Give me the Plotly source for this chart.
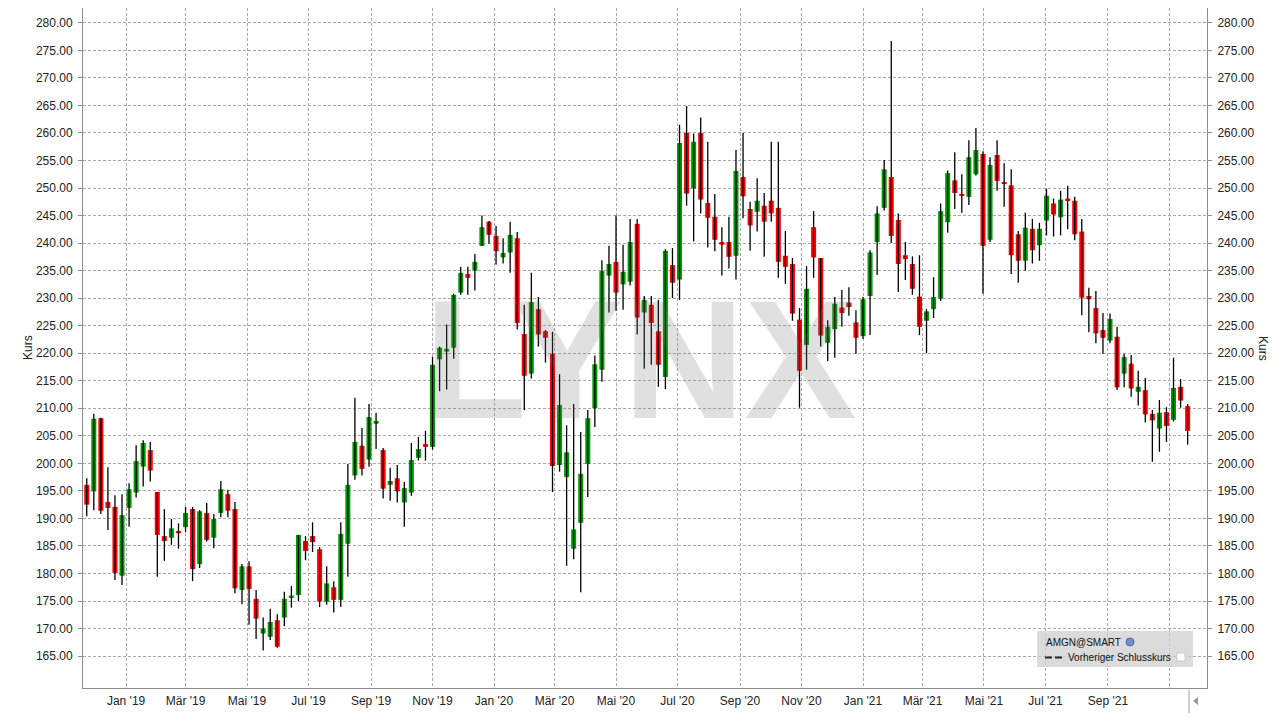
import plotly.graph_objects as go
import pandas as pd

# ---- data (weekly bars, AMGN) ----
week_start = "2018-11-23"
n_weeks = 157
dates = pd.date_range(week_start, periods=n_weeks, freq="7D")

opens = [196.1, 194.9, 208.2, 193.0, 192.1, 179.6, 191.9, 194.7, 199.4, 202.4,
         194.8, 186.8, 186.5, 187.7, 188.4, 191.7, 181.7, 191.0, 186.5, 191.0,
         194.4, 191.7, 177.0, 181.3, 175.4, 169.1, 168.5, 171.5, 172.0, 175.7,
         176.1, 185.9, 186.8, 184.4, 174.9, 177.5, 175.2, 185.4, 197.8, 203.2,
         200.7, 207.2, 202.4, 196.1, 197.3, 192.9, 194.7, 201.0, 203.5, 203.0,
         218.9, 220.3, 221.0, 231.0, 234.4, 235.0, 239.5, 243.9, 241.3, 237.4,
         238.3, 240.9, 223.5, 216.3, 228.0, 224.0, 219.9, 199.7, 197.5, 184.5,
         189.2, 199.9, 210.0, 217.0, 234.1, 236.6, 232.5, 233.0, 243.5, 227.4,
         228.8, 224.0, 215.7, 236.0, 233.4, 260.0, 249.9, 260.0, 247.3, 244.8,
         240.2, 240.2, 237.7, 252.0, 246.2, 245.7, 246.8, 247.7, 246.4, 237.7,
         236.2, 226.1, 221.5, 242.9, 237.3, 221.9, 224.4, 228.3, 229.2, 225.6,
         223.1, 230.4, 240.2, 246.4, 252.0, 244.2, 237.8, 236.2, 230.3, 225.9,
         228.0, 229.9, 243.8, 251.4, 248.9, 248.4, 252.5, 256.2, 240.6, 256.0,
         251.1, 250.5, 241.6, 236.8, 242.6, 239.6, 244.1, 247.2, 244.7, 248.1,
         247.7, 242.1, 230.4, 228.2, 224.2, 222.3, 223.0, 216.3, 218.1, 213.0,
         213.3, 209.0, 206.3, 209.3, 207.9, 213.9, 210.4]
highs = [197.3, 209.0, 208.3, 199.3, 194.2, 194.4, 196.4, 203.3, 204.2, 203.9,
         194.8, 191.7, 189.9, 189.1, 192.1, 192.1, 191.5, 192.8, 190.8, 196.8,
         195.2, 193.0, 181.7, 182.2, 177.0, 172.0, 173.6, 172.6, 176.7, 177.7,
         187.0, 186.8, 189.3, 184.8, 181.3, 178.6, 189.3, 199.9, 211.9, 206.4,
         210.8, 209.2, 202.8, 199.2, 199.7, 196.6, 203.7, 204.8, 205.9, 219.4,
         221.2, 225.2, 230.8, 235.7, 235.7, 238.0, 245.0, 244.0, 243.1, 240.9,
         243.9, 242.0, 228.8, 234.6, 230.2, 224.2, 223.9, 216.2, 206.9, 210.8,
         205.7, 209.7, 219.6, 236.9, 239.5, 245.0, 239.7, 244.4, 244.4, 230.4,
         230.4, 229.7, 238.9, 239.1, 261.5, 264.9, 259.9, 262.8, 258.4, 248.9,
         242.9, 244.8, 256.9, 260.0, 247.5, 251.8, 249.1, 258.4, 258.4, 242.2,
         237.3, 228.2, 235.8, 245.8, 237.3, 226.0, 230.2, 231.5, 232.0, 227.8,
         230.2, 238.7, 246.7, 255.1, 276.7, 245.4, 240.2, 237.6, 237.8, 228.0,
         233.8, 247.2, 253.2, 256.5, 252.5, 258.7, 260.9, 256.7, 255.6, 258.7,
         254.5, 253.4, 242.2, 245.5, 244.4, 243.7, 249.9, 248.1, 249.5, 250.4,
         248.4, 244.4, 231.9, 231.3, 227.3, 227.2, 224.8, 219.9, 219.7, 216.8,
         215.5, 209.7, 211.5, 210.2, 219.2, 215.3, 210.8]
lows = [190.4, 191.5, 190.8, 187.9, 178.8, 177.9, 188.5, 193.8, 195.8, 196.7,
        179.4, 182.3, 185.2, 184.5, 187.5, 178.6, 181.0, 185.8, 184.6, 190.2,
        190.2, 176.4, 174.4, 170.7, 168.1, 166.0, 167.9, 166.5, 170.4, 173.8,
        175.0, 182.4, 183.9, 173.9, 174.3, 172.9, 173.9, 179.4, 197.0, 197.8,
        199.4, 202.6, 193.6, 193.2, 192.9, 188.5, 194.1, 200.5, 200.5, 202.5,
        213.1, 213.4, 219.0, 230.6, 230.6, 231.4, 239.5, 239.9, 236.1, 236.3,
        234.6, 224.3, 209.7, 215.4, 221.2, 218.3, 194.8, 198.5, 181.4, 182.6,
        176.6, 193.9, 206.6, 214.8, 227.4, 227.7, 227.9, 232.3, 223.4, 217.2,
        217.9, 213.9, 213.5, 230.0, 229.7, 246.8, 240.3, 245.4, 239.2, 238.5,
        234.1, 235.4, 233.4, 244.5, 238.6, 242.1, 237.5, 243.9, 233.7, 232.6,
        225.9, 210.1, 217.0, 233.7, 221.2, 218.6, 219.2, 224.8, 226.8, 219.9,
        222.6, 223.3, 234.2, 245.9, 240.0, 231.1, 233.3, 230.6, 223.3, 220.0,
        226.4, 229.5, 241.9, 246.2, 245.5, 246.9, 252.3, 230.8, 240.2, 249.5,
        246.6, 234.4, 232.8, 235.0, 236.3, 236.8, 241.4, 241.2, 241.4, 242.5,
        240.5, 226.9, 223.8, 221.8, 219.9, 221.8, 213.3, 213.8, 212.1, 210.5,
        207.4, 200.3, 202.1, 203.9, 207.6, 210.1, 203.4]
closes = [192.5, 208.1, 191.4, 191.9, 180.1, 190.6, 195.3, 200.4, 203.7, 198.7,
          187.0, 185.9, 188.2, 187.3, 191.0, 180.8, 191.3, 186.1, 189.9, 195.3,
          191.4, 177.3, 181.3, 177.2, 171.8, 170.0, 171.2, 166.7, 175.4, 176.0,
          187.0, 184.1, 185.7, 174.9, 178.2, 175.2, 187.2, 196.1, 203.9, 199.0,
          208.4, 207.7, 195.4, 196.8, 194.9, 195.5, 200.6, 202.6, 203.0, 217.9,
          221.0, 220.8, 230.6, 234.6, 233.7, 236.6, 242.9, 241.5, 238.5, 238.2,
          241.5, 225.5, 215.9, 229.3, 223.4, 222.8, 199.5, 210.6, 202.0, 188.0,
          198.1, 208.2, 218.0, 234.9, 236.2, 231.0, 234.8, 240.2, 226.5, 229.7,
          225.5, 217.9, 238.6, 232.8, 258.2, 249.0, 258.4, 247.9, 244.6, 240.6,
          239.7, 237.5, 253.1, 248.5, 243.2, 247.7, 243.9, 245.4, 236.6, 235.7,
          227.2, 216.8, 231.7, 237.4, 223.2, 224.8, 229.0, 227.3, 228.4, 222.8,
          229.8, 238.3, 245.4, 253.4, 241.3, 236.2, 237.1, 231.7, 224.8, 227.6,
          230.2, 245.8, 252.7, 249.1, 248.6, 255.6, 256.9, 239.5, 254.2, 251.3,
          250.8, 237.8, 236.8, 242.8, 238.7, 242.6, 248.6, 245.2, 247.9, 247.8,
          241.6, 230.1, 229.8, 223.6, 222.8, 226.2, 213.8, 219.3, 213.6, 213.9,
          208.9, 207.8, 209.2, 206.8, 213.7, 211.4, 205.9]

month_ticks = ["2019-01-01", "2019-03-01", "2019-05-01", "2019-07-01", "2019-09-01",
               "2019-11-01", "2020-01-01", "2020-03-01", "2020-05-01", "2020-07-01",
               "2020-09-01", "2020-11-01", "2021-01-01", "2021-03-01", "2021-05-01",
               "2021-07-01", "2021-09-01", "2021-11-01"]
month_labels = ["Jan '19", "Mär '19", "Mai '19", "Jul '19", "Sep '19", "Nov '19",
                "Jan '20", "Mär '20", "Mai '20", "Jul '20", "Sep '20", "Nov '20",
                "Jan '21", "Mär '21", "Mai '21", "Jul '21", "Sep '21", ""]
price_ticks = [165, 170, 175, 180, 185, 190, 195, 200, 205, 210, 215, 220, 225,
               230, 235, 240, 245, 250, 255, 260, 265, 270, 275, 280]

GREEN = "#009900"
RED = "#ff0000"

# ---- geometry helpers (decoration only) ----
W, H = 1281, 721
L, R, T, B = 83, 1207, 8, 688


def px(x):
    return (x - L) / (R - L)


def py(y):
    return (B - y) / (B - T)


fig = go.Figure()

wx, wy = [], []
for d, h, l in zip(dates, highs, lows):
    wx += [d, d, None]
    wy += [l, h, None]
fig.add_trace(go.Scatter(x=wx, y=wy, mode="lines",
                         line=dict(color="black", width=1.3),
                         hoverinfo="skip", showlegend=False))

base = [min(o, c) for o, c in zip(opens, closes)]
body = [max(abs(c - o), 0.3) for o, c in zip(opens, closes)]
cols = [GREEN if c >= o else RED for o, c in zip(opens, closes)]
fig.add_trace(go.Bar(x=dates, y=body, base=base, width=5 * 86400000,
                     marker=dict(color=cols, line=dict(width=0)),
                     showlegend=False, hoverinfo="skip"))

fig.add_trace(go.Scatter(x=[dates[0]], y=[closes[0]], yaxis="y2", mode="markers",
                         marker=dict(opacity=0), hoverinfo="skip", showlegend=False))

grid = dict(showgrid=True, gridcolor="#a9a9a9", gridwidth=1, griddash="3px,2px")
tickfont = dict(family="Liberation Sans, Arial, sans-serif", size=12, color="#222222")
yrange = [159.2, 282.7]

fig.update_layout(
    width=W, height=H,
    margin=dict(l=L, r=W - R, t=T, b=H - B),
    paper_bgcolor="white", plot_bgcolor="white",
    barmode="overlay",
    showlegend=False,
    xaxis=dict(type="date", range=["2018-11-19 07:00", "2021-12-08 05:00"],
               tickvals=month_ticks, ticktext=month_labels, tickfont=tickfont,
               showline=True, linecolor="#8c8c8c", linewidth=1, ticks="",
               zeroline=False, ticklabelstandoff=2, **grid),
    yaxis=dict(range=yrange, tickvals=price_ticks, tickformat=".2f", tickfont=tickfont,
               showline=True, linecolor="#8c8c8c", linewidth=1, ticks="outside",
               ticklen=4, tickcolor="#8c8c8c", zeroline=False, side="left",
               ticklabelstandoff=3, **grid),
    yaxis2=dict(range=yrange, tickvals=price_ticks, tickformat=".2f", tickfont=tickfont,
                overlaying="y", side="right", showgrid=False, showline=True,
                linecolor="#8c8c8c", linewidth=1, ticks="outside", ticklen=4,
                tickcolor="#8c8c8c", zeroline=False, ticklabelstandoff=3),
)

annotations = [
    dict(text="<b>LYNX</b>", x=px(640.5), y=py(360), xref="paper", yref="paper",
         showarrow=False, xanchor="center", yanchor="middle",
         font=dict(family="Liberation Sans, Arial", size=168,
                   color="rgba(112,115,120,0.22)")),
    dict(text="Kurs", x=px(28), y=py(348), xref="paper", yref="paper", showarrow=False,
         textangle=-90, xanchor="center", yanchor="middle",
         font=dict(family="Liberation Sans, Arial", size=12, color="#222222")),
    dict(text="Kurs", x=px(1263), y=py(348), xref="paper", yref="paper", showarrow=False,
         textangle=90, xanchor="center", yanchor="middle",
         font=dict(family="Liberation Sans, Arial", size=12, color="#222222")),
    dict(text="AMGN@SMART", x=px(1044), y=py(642), xref="paper", yref="paper",
         showarrow=False, xanchor="left", yanchor="middle",
         font=dict(family="Liberation Sans, Arial", size=10, color="#111111")),
    dict(text="Vorheriger Schlusskurs", x=px(1066), y=py(657.5), xref="paper",
         yref="paper", showarrow=False, xanchor="left", yanchor="middle",
         font=dict(family="Liberation Sans, Arial", size=10, color="#111111")),
]
fig.update_layout(annotations=annotations)

shapes = [
    dict(type="rect", xref="paper", yref="paper", x0=px(1037), x1=px(1193),
         y0=py(631), y1=py(667), fillcolor="rgba(205,205,205,0.72)",
         line=dict(width=0), layer="above"),
    dict(type="circle", xref="paper", yref="paper", x0=px(1126), x1=px(1134),
         y0=py(638), y1=py(646), fillcolor="#7090cc", line=dict(color="#4a6aa8", width=1)),
    dict(type="line", xref="paper", yref="paper", x0=px(1045), x1=px(1052),
         y0=py(657.5), y1=py(657.5), line=dict(color="#222222", width=2)),
    dict(type="line", xref="paper", yref="paper", x0=px(1055), x1=px(1062),
         y0=py(657.5), y1=py(657.5), line=dict(color="#222222", width=2)),
    dict(type="rect", xref="paper", yref="paper", x0=px(1177), x1=px(1185),
         y0=py(653), y1=py(661), fillcolor="white", line=dict(color="#c8c8dc", width=1)),
    dict(type="line", xref="paper", yref="paper", x0=px(1189), x1=px(1189),
         y0=py(690), y1=py(713), line=dict(color="#9a9a9a", width=1)),
    dict(type="path", xref="paper", yref="paper",
         path=f"M {px(1193)} {py(701)} L {px(1198)} {py(697)} L {px(1198)} {py(705)} Z",
         fillcolor="#9a9a9a", line=dict(width=0)),
]
fig.update_layout(shapes=shapes)

fig.write_html("out.html", config={"displayModeBar": False},
               post_script="document.body.style.margin='0';")
